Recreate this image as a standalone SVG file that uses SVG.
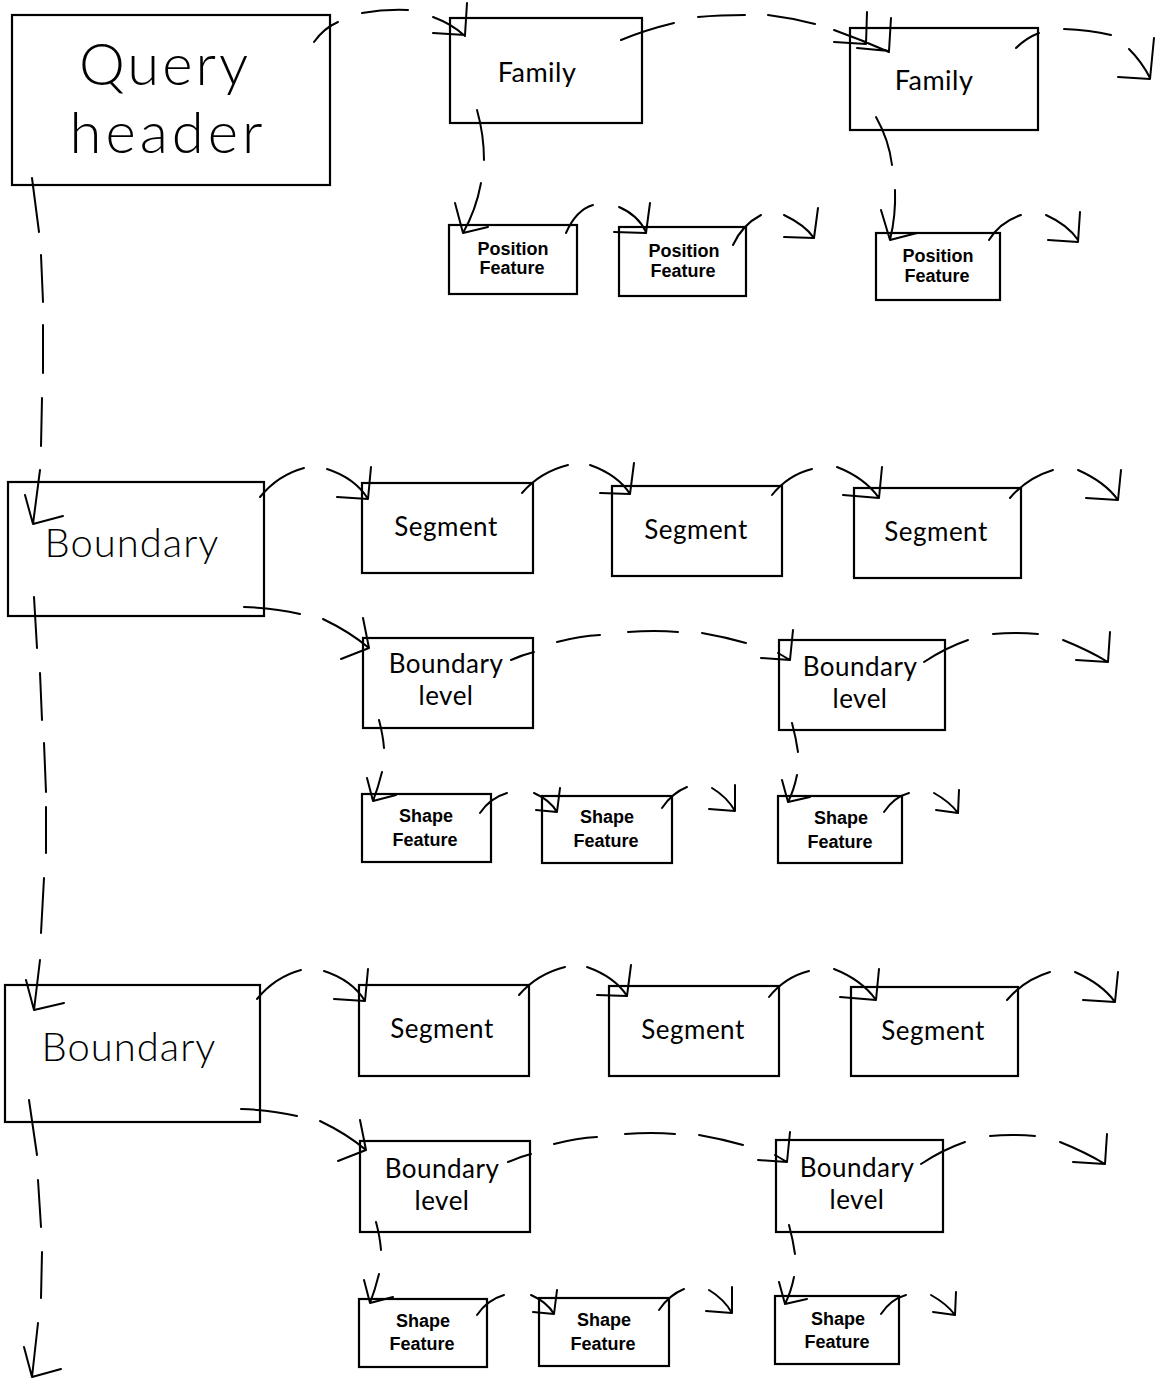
<svg xmlns="http://www.w3.org/2000/svg" width="1155" height="1379" viewBox="0 0 1155 1379">
  <style>
    .box { fill: #fff; stroke: #000; stroke-width: 2.2; }
    .ln { fill: none; stroke: #000; stroke-width: 2; stroke-linecap: round; stroke-linejoin: round; }
    .big { font-family: "Lato", "Liberation Sans", sans-serif; font-weight: 300; font-size: 58px; letter-spacing: 3px; text-anchor: middle; fill: #000; }
    .mid { font-family: "Lato", "Liberation Sans", sans-serif; font-weight: 300; font-size: 40px; letter-spacing: 1px; text-anchor: middle; fill: #000; }
    .lbl { font-family: "Lato", "Liberation Sans", sans-serif; font-weight: 400; font-size: 26px; letter-spacing: 0.5px; text-anchor: middle; fill: #000; }
    .sm { font-family: "Liberation Sans", "DejaVu Sans", sans-serif; font-size: 18px; font-weight: bold; text-anchor: middle; fill: #000; }
  </style>
  <rect width="1155" height="1379" fill="#fff"/>

  <!-- Nodes -->
  <g id="query-header">
    <rect class="box" x="12" y="15" width="318" height="170"/>
    <text class="big" x="165" y="85">Query</text>
    <text class="big" x="168" y="153" style="letter-spacing:4px">header</text>
  </g>
  <g id="family-1">
    <rect class="box" x="450" y="18" width="192" height="105"/>
    <text class="lbl" x="537" y="82" style="font-size:27px">Family</text>
  </g>
  <g id="family-2">
    <rect class="box" x="850" y="28" width="188" height="102"/>
    <text class="lbl" x="934" y="90" style="font-size:27px">Family</text>
  </g>
  <g id="position-feature-1">
    <rect class="box" x="449" y="225" width="128" height="69"/>
    <text class="sm" x="513" y="255">Position</text>
    <text class="sm" x="512" y="274">Feature</text>
  </g>
  <g id="position-feature-2">
    <rect class="box" x="619" y="227" width="127" height="69"/>
    <text class="sm" x="684" y="257">Position</text>
    <text class="sm" x="683" y="277">Feature</text>
  </g>
  <g id="position-feature-3">
    <rect class="box" x="876" y="233" width="124" height="67"/>
    <text class="sm" x="938" y="262">Position</text>
    <text class="sm" x="937" y="282">Feature</text>
  </g>

  <!-- first boundary block -->
  <g id="boundary-1">
    <rect class="box" x="8" y="482" width="256" height="134"/>
    <text class="mid" x="132" y="557">Boundary</text>
  </g>
  <g id="segment-1-1">
    <rect class="box" x="362" y="483" width="171" height="90"/>
    <text class="lbl" x="446" y="536">Segment</text>
  </g>
  <g id="segment-1-2">
    <rect class="box" x="612" y="486" width="170" height="90"/>
    <text class="lbl" x="696" y="539">Segment</text>
  </g>
  <g id="segment-1-3">
    <rect class="box" x="854" y="488" width="167" height="90"/>
    <text class="lbl" x="936" y="541">Segment</text>
  </g>
  <g id="boundary-level-1-1">
    <rect class="box" x="363" y="638" width="170" height="90"/>
    <text class="lbl" x="446" y="673">Boundary</text>
    <text class="lbl" x="446" y="705">level</text>
  </g>
  <g id="boundary-level-1-2">
    <rect class="box" x="779" y="640" width="166" height="90"/>
    <text class="lbl" x="860" y="676">Boundary</text>
    <text class="lbl" x="860" y="708">level</text>
  </g>
  <g id="shape-feature-1-1">
    <rect class="box" x="362" y="794" width="129" height="68"/>
    <text class="sm" x="426" y="822">Shape</text>
    <text class="sm" x="425" y="846">Feature</text>
  </g>
  <g id="shape-feature-1-2">
    <rect class="box" x="542" y="796" width="130" height="67"/>
    <text class="sm" x="607" y="823">Shape</text>
    <text class="sm" x="606" y="847">Feature</text>
  </g>
  <g id="shape-feature-1-3">
    <rect class="box" x="778" y="796" width="124" height="67"/>
    <text class="sm" x="841" y="824">Shape</text>
    <text class="sm" x="840" y="848">Feature</text>
  </g>

  <!-- second boundary block -->
  <g id="boundary-2">
    <rect class="box" x="5" y="985" width="255" height="137"/>
    <text class="mid" x="129" y="1061">Boundary</text>
  </g>
  <g id="segment-2-1">
    <rect class="box" x="359" y="985" width="170" height="91"/>
    <text class="lbl" x="442" y="1038">Segment</text>
  </g>
  <g id="segment-2-2">
    <rect class="box" x="609" y="986" width="170" height="90"/>
    <text class="lbl" x="693" y="1039">Segment</text>
  </g>
  <g id="segment-2-3">
    <rect class="box" x="851" y="987" width="167" height="89"/>
    <text class="lbl" x="933" y="1040">Segment</text>
  </g>
  <g id="boundary-level-2-1">
    <rect class="box" x="360" y="1141" width="170" height="91"/>
    <text class="lbl" x="442" y="1178">Boundary</text>
    <text class="lbl" x="442" y="1210">level</text>
  </g>
  <g id="boundary-level-2-2">
    <rect class="box" x="776" y="1140" width="167" height="92"/>
    <text class="lbl" x="857" y="1177">Boundary</text>
    <text class="lbl" x="857" y="1209">level</text>
  </g>
  <g id="shape-feature-2-1">
    <rect class="box" x="359" y="1299" width="128" height="68"/>
    <text class="sm" x="423" y="1327">Shape</text>
    <text class="sm" x="422" y="1350">Feature</text>
  </g>
  <g id="shape-feature-2-2">
    <rect class="box" x="539" y="1298" width="130" height="68"/>
    <text class="sm" x="604" y="1326">Shape</text>
    <text class="sm" x="603" y="1350">Feature</text>
  </g>
  <g id="shape-feature-2-3">
    <rect class="box" x="775" y="1296" width="124" height="68"/>
    <text class="sm" x="838" y="1325">Shape</text>
    <text class="sm" x="837" y="1348">Feature</text>
  </g>

  <!-- Connectors -->
  <g id="connectors" class="ln">
    <!-- header -> family chain -->
    <path class="ln" d="M314,42 Q324,28 338,22 M362,13 Q385,9 408,10 M433,17 Q452,24 465,36 M433,33 L465,35 L467,3"/>
    <path class="ln" d="M621,40 Q645,30 674,23 M698,17 Q720,15 745,15 M768,15 Q792,18 815,24 M834,30 Q862,40 889,52 M834,42 L866,44 L867,12 M857,48 L889,51 L891,18"/>
    <path class="ln" d="M1016,48 Q1026,38 1039,33 M1064,29 Q1090,30 1111,35 M1129,49 Q1142,62 1150,78 M1118,77 L1150,79 L1154,38"/>
    <!-- family -> position features -->
    <path class="ln" d="M477,110 Q484,135 484,160 M481,183 Q476,210 463,233 M455,203 L463,233 L488,227"/>
    <path class="ln" d="M566,233 Q576,210 593,205 M619,207 Q638,215 646,232 M614,232 L646,233 L650,203"/>
    <path class="ln" d="M733,245 Q742,225 761,215 M784,215 Q805,225 814,238 M784,237 L814,238 L818,208"/>
    <path class="ln" d="M876,117 Q889,140 892,165 M895,190 Q896,215 890,240 M881,210 L890,240 L917,233"/>
    <path class="ln" d="M989,240 Q1000,222 1021,215 M1046,215 Q1068,225 1078,240 M1048,240 L1078,242 L1080,212"/>

    <!-- vertical trunk of boundaries -->
    <path class="ln" d="M32,178 L39,232 M41,255 L43,302 M43,325 L43,373 M42,398 L41,446 M40,470 L33,524 M25,495 L33,524 L63,516"/>
    <path class="ln" d="M34,597 L37,648 M40,673 L42,720 M44,743 L46,792 M46,807 L46,853 M44,878 L41,933 M40,960 L34,1010 M26,980 L34,1010 L64,1003"/>
    <path class="ln" d="M29,1100 L37,1155 M38,1180 L41,1227 M42,1252 L41,1298 M38,1323 L32,1377 M24,1347 L32,1377 L61,1369"/>

    <!-- boundary block links -->
    <g id="block-links-1">
      <path class="ln" d="M260,497 Q278,475 304,468 M327,469 Q355,478 368,499 M337,497 L368,499 L371,467"/>
      <path class="ln" d="M522,493 Q540,472 568,465 M590,465 Q618,475 630,494 M600,493 L630,494 L634,463"/>
      <path class="ln" d="M772,495 Q788,475 812,469 M837,467 Q865,478 879,498 M843,495 L879,498 L882,467"/>
      <path class="ln" d="M1010,498 Q1027,478 1053,470 M1078,470 Q1105,482 1118,500 M1086,498 L1118,500 L1121,470"/>
      <path class="ln" d="M244,607 Q275,608 300,614 M323,619 Q350,632 369,648 M363,618 L369,648 L341,659"/>
      <path class="ln" d="M511,660 Q522,655 534,652 M557,642 Q580,636 600,635 M628,632 Q655,630 678,632 M702,633 Q725,637 746,643 M778,653 L790,660 M761,658 L790,660 L793,630"/>
      <path class="ln" d="M924,662 Q945,648 968,640 M993,634 Q1015,632 1038,634 M1063,640 Q1088,650 1108,662 M1076,660 L1108,662 L1110,632"/>
      <path class="ln" d="M379,720 Q383,735 384,748 M382,772 Q378,788 373,801 M367,778 L373,801 L396,795"/>
      <path class="ln" d="M480,813 Q490,798 507,793 M534,793 Q550,800 557,812 M536,810 L557,812 L560,788"/>
      <path class="ln" d="M662,808 Q672,793 687,787 M712,788 Q727,797 735,811 M709,809 L735,811 L735,785"/>
      <path class="ln" d="M792,723 Q796,738 798,752 M797,775 Q794,790 788,802 M782,780 L788,802 L810,797"/>
      <path class="ln" d="M884,812 Q894,797 909,793 M934,793 Q950,802 958,813 M936,810 L958,813 L959,790"/>
    </g>
    <g id="block-links-2" transform="translate(-3,502)">
      <path class="ln" d="M260,497 Q278,475 304,468 M327,469 Q355,478 368,499 M337,497 L368,499 L371,467"/>
      <path class="ln" d="M522,493 Q540,472 568,465 M590,465 Q618,475 630,494 M600,493 L630,494 L634,463"/>
      <path class="ln" d="M772,495 Q788,475 812,469 M837,467 Q865,478 879,498 M843,495 L879,498 L882,467"/>
      <path class="ln" d="M1010,498 Q1027,478 1053,470 M1078,470 Q1105,482 1118,500 M1086,498 L1118,500 L1121,470"/>
      <path class="ln" d="M244,607 Q275,608 300,614 M323,619 Q350,632 369,648 M363,618 L369,648 L341,659"/>
      <path class="ln" d="M511,660 Q522,655 534,652 M557,642 Q580,636 600,635 M628,632 Q655,630 678,632 M702,633 Q725,637 746,643 M778,653 L790,660 M761,658 L790,660 L793,630"/>
      <path class="ln" d="M924,662 Q945,648 968,640 M993,634 Q1015,632 1038,634 M1063,640 Q1088,650 1108,662 M1076,660 L1108,662 L1110,632"/>
      <path class="ln" d="M379,720 Q383,735 384,748 M382,772 Q378,788 373,801 M367,778 L373,801 L396,795"/>
      <path class="ln" d="M480,813 Q490,798 507,793 M534,793 Q550,800 557,812 M536,810 L557,812 L560,788"/>
      <path class="ln" d="M662,808 Q672,793 687,787 M712,788 Q727,797 735,811 M709,809 L735,811 L735,785"/>
      <path class="ln" d="M792,723 Q796,738 798,752 M797,775 Q794,790 788,802 M782,780 L788,802 L810,797"/>
      <path class="ln" d="M884,812 Q894,797 909,793 M934,793 Q950,802 958,813 M936,810 L958,813 L959,790"/>
    </g>
  </g>
</svg>
